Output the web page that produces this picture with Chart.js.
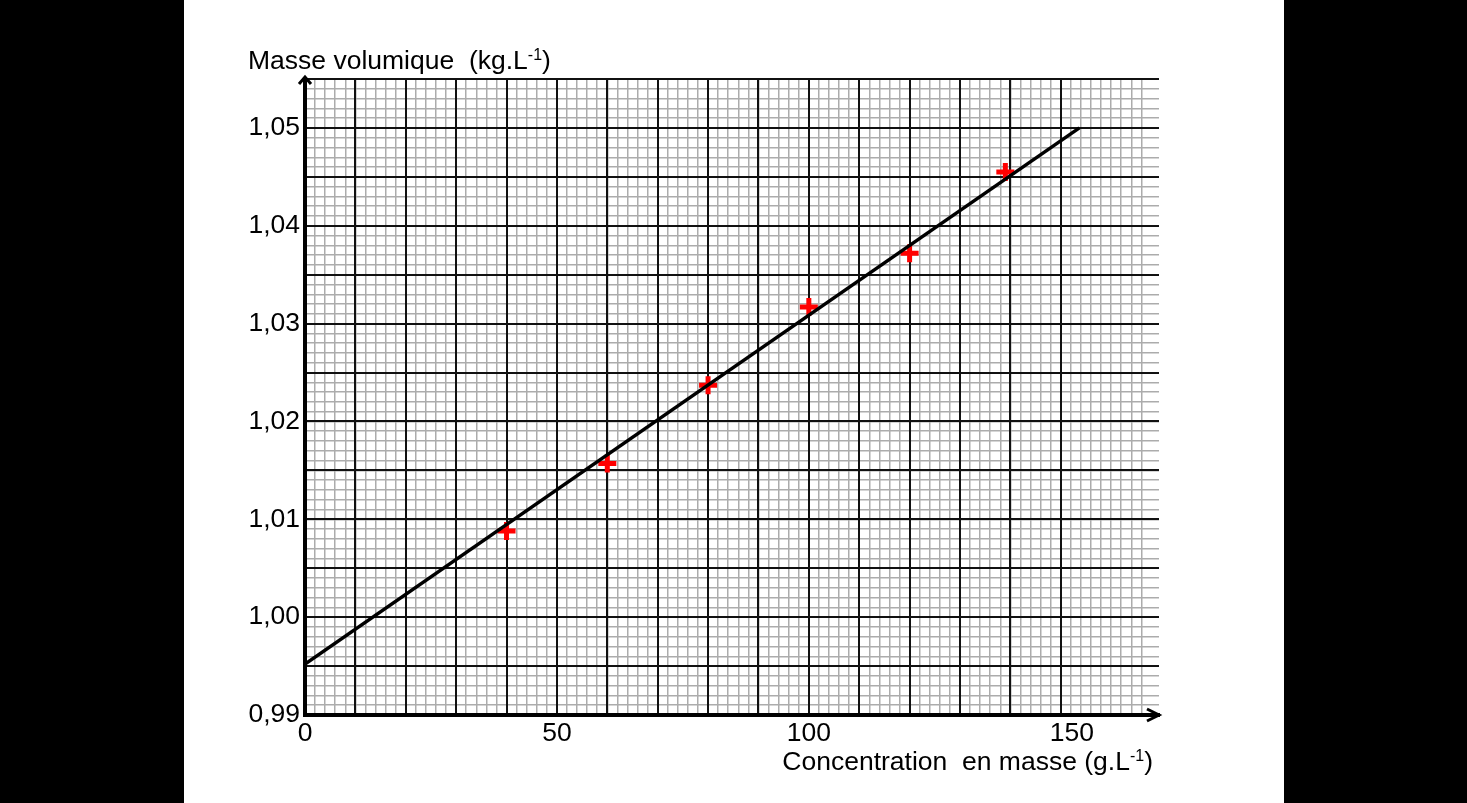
<!DOCTYPE html>
<html>
<head>
<meta charset="utf-8">
<script src="https://cdn.jsdelivr.net/npm/chart.js@4/dist/chart.umd.min.js"></script>
<style>
  html, body { margin: 0; padding: 0; background: #000; width: 1467px; height: 803px; overflow: hidden; }
  #sheet { position: absolute; left: 184px; top: 0; width: 1100px; height: 803px; background: #fff; }
  canvas { display: block; }
</style>
</head>
<body>
<div id="sheet"><canvas id="chart" width="1100" height="803"></canvas></div>
<script>
// measured points (concentration in g/L, density in kg/L)
const concentrations = [40, 60, 80, 100, 120, 139];
const densities = [1.0088, 1.0157, 1.0237, 1.0317, 1.0372, 1.0455];

// straight line drawn through the points
const fitX = [0, 153.7];
const fitY = [0.9952, 1.05];

// labelled ticks
const xTickLabels = [0, 50, 100, 150];
const yTickLabels = [0.99, 1.00, 1.01, 1.02, 1.03, 1.04, 1.05];

const X_MIN = 0, X_MAX = 169.5;
const Y_MIN = 0.99, Y_MAX = 1.055;

const FONT = 'Liberation Sans, Arial, sans-serif';
const FONT_SIZE = 26.5;
const MINOR = '#acacac';
const MAJOR = '#111111';

function isMultiple(v, step) {
    const r = v / step;
    return Math.abs(r - Math.round(r)) < 1e-6;
}

function inList(v, list) {
    return list.some(l => Math.abs(l - v) < 1e-6);
}

// draws text with a "-1" exponent as real text
function drawRich(ctx, parts, x, y, align) {
    const main = FONT_SIZE + 'px ' + FONT;
    const sup = '16px ' + FONT;
    let total = 0;
    parts.forEach(p => {
        ctx.font = p[1] ? sup : main;
        total += ctx.measureText(p[0]).width;
    });
    let cx = align === 'right' ? x - total : x;
    ctx.textAlign = 'left';
    ctx.textBaseline = 'alphabetic';
    parts.forEach(p => {
        ctx.font = p[1] ? sup : main;
        ctx.fillText(p[0], cx, p[1] ? y - 9 : y);
        cx += ctx.measureText(p[0]).width;
    });
}

const paperPlugin = {
    id: 'paper',
    afterDraw(chart) {
        const ctx = chart.ctx;
        const a = chart.chartArea;
        ctx.save();
        ctx.strokeStyle = '#000';
        ctx.fillStyle = '#000';
        ctx.lineJoin = 'miter';

        // arrow on the y axis
        ctx.lineWidth = 4;
        ctx.beginPath();
        ctx.moveTo(a.left, a.top + 2);
        ctx.lineTo(a.left, a.top - 2);
        ctx.stroke();
        ctx.lineWidth = 3;
        ctx.beginPath();
        ctx.moveTo(a.left - 6, a.top + 5);
        ctx.lineTo(a.left, a.top - 2);
        ctx.lineTo(a.left + 6, a.top + 5);
        ctx.stroke();

        // arrow on the x axis
        ctx.beginPath();
        ctx.moveTo(a.right - 12, a.bottom - 6);
        ctx.lineTo(a.right, a.bottom);
        ctx.lineTo(a.right - 12, a.bottom + 6);
        ctx.stroke();

        // axis titles
        drawRich(ctx, [['Masse volumique  (kg.L', false], ['-1', true], [')', false]],
            a.left - 57, a.top - 10, 'left');
        drawRich(ctx, [['Concentration  en masse (g.L', false], ['-1', true], [')', false]],
            a.right - 6, a.bottom + 55, 'right');
        ctx.restore();
    }
};

const ctx = document.getElementById('chart').getContext('2d');
new Chart(ctx, {
    type: 'scatter',
    data: {
        datasets: [
            {
                label: 'Droite',
                data: fitX.map((x, i) => ({ x: x, y: fitY[i] })),
                showLine: true,
                borderColor: '#000',
                borderWidth: 3.5,
                pointRadius: 0,
                xAxisID: 'x',
                yAxisID: 'y'
            },
            {
                label: 'Mesures',
                data: concentrations.map((x, i) => ({ x: x, y: densities[i] })),
                pointStyle: 'cross',
                pointRadius: 9,
                pointBorderWidth: 5,
                borderColor: '#ff0000',
                backgroundColor: '#ff0000',
                xAxisID: 'x',
                yAxisID: 'y'
            }
        ]
    },
    options: {
        responsive: false,
        animation: false,
        events: [],
        layout: { padding: { top: 79, right: 125, left: 0, bottom: 0 } },
        plugins: {
            legend: { display: false },
            tooltip: { enabled: false }
        },
        scales: {
            // fine grid, every 2 g/L
            x: {
                type: 'linear',
                position: 'bottom',
                min: X_MIN,
                max: X_MAX,
                ticks: { display: false, stepSize: 2, autoSkip: false },
                grid: {
                    z: -2,
                    drawTicks: false,
                    lineWidth: 1.5,
                    color: c => isMultiple(c.tick.value, 2) ? MINOR : 'rgba(0,0,0,0)'
                },
                border: { display: false },
                afterFit: s => { s.height = 0; }
            },
            // fine grid, every 0.001 kg/L
            y: {
                type: 'linear',
                position: 'left',
                min: Y_MIN,
                max: Y_MAX,
                ticks: { display: false, stepSize: 0.001, autoSkip: false },
                grid: {
                    z: -2,
                    drawTicks: false,
                    lineWidth: 1.5,
                    color: c => isMultiple(c.tick.value, 0.001) ? MINOR : 'rgba(0,0,0,0)'
                },
                border: { display: false },
                afterFit: s => { s.width = 0; }
            },
            // bold grid, every 10 g/L, with labels
            xMajor: {
                type: 'linear',
                position: 'bottom',
                min: X_MIN,
                max: X_MAX,
                ticks: {
                    stepSize: 10,
                    autoSkip: false,
                    maxRotation: 0,
                    padding: 3,
                    color: '#000',
                    font: { family: FONT, size: FONT_SIZE },
                    // the 150 label sits a little right of its line in the original
                    callback: v => inList(v, xTickLabels) ? (v === 150 ? '   150' : String(v)) : ''
                },
                grid: {
                    z: -1,
                    drawTicks: false,
                    lineWidth: 2,
                    color: c => isMultiple(c.tick.value, 10) ? MAJOR : 'rgba(0,0,0,0)'
                },
                border: { display: true, color: '#000', width: 4 },
                afterFit: s => { s.height = 88; }
            },
            // bold grid, every 0.005 kg/L, with labels
            yMajor: {
                type: 'linear',
                position: 'left',
                min: Y_MIN,
                max: Y_MAX,
                ticks: {
                    stepSize: 0.005,
                    autoSkip: false,
                    padding: 5,
                    color: '#000',
                    font: { family: FONT, size: FONT_SIZE },
                    callback: v => inList(v, yTickLabels) ? v.toFixed(2).replace('.', ',') : ''
                },
                grid: {
                    z: -1,
                    drawTicks: false,
                    lineWidth: 2,
                    color: c => isMultiple(c.tick.value, 0.005) ? MAJOR : 'rgba(0,0,0,0)'
                },
                border: { display: true, color: '#000', width: 4 },
                afterFit: s => { s.width = 121; }
            }
        }
    },
    plugins: [paperPlugin]
});
</script>
</body>
</html>
